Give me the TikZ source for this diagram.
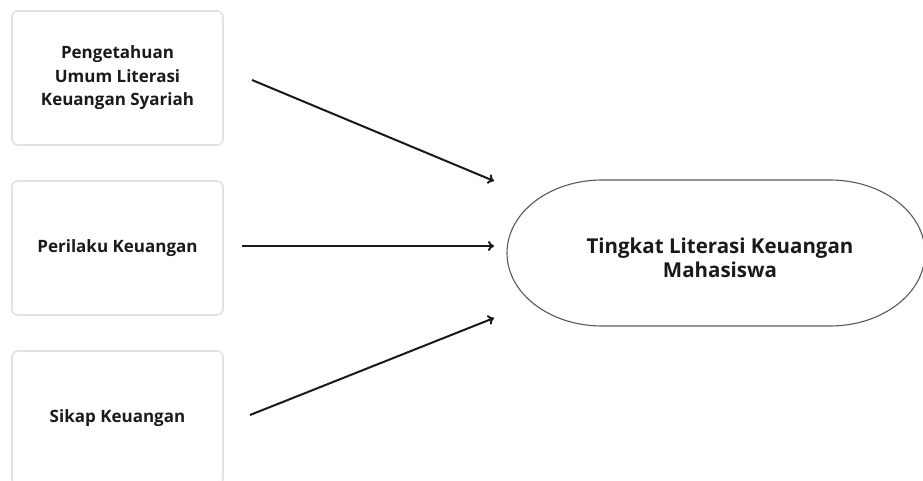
\documentclass[tikz,border=0pt]{standalone}
\usepackage{fontspec}
\setmainfont{Open Sans}
\usetikzlibrary{arrows.meta}
\definecolor{boxline}{HTML}{E2E2E2}
\definecolor{ovalline}{HTML}{5A5A5A}
\definecolor{ink}{HTML}{1A1A1A}
\tikzset{
  factor/.style={draw=boxline, line width=1.6pt, rounded corners=6pt, fill=white,
    minimum width=211pt, minimum height=134pt, align=center, inner sep=0pt,
    text=ink, font=\bfseries\fontsize{17}{23.5}\selectfont},
  link/.style={draw=ink, line width=2pt, -{To[length=6pt,width=10pt]}},
  outcome/.style={text=ink, align=center, font=\bfseries\fontsize{20.5}{24}\selectfont}
}
\begin{document}
\begin{tikzpicture}[x=1pt,y=-1pt]
  \useasboundingbox (0,0) rectangle (923,481);
  \clip (0,0) rectangle (923,481);
  \fill[white] (0,0) rectangle (923,481);

  % input factors
  \node[factor] (pengetahuan) at (117.5,78) {Pengetahuan\\Umum Literasi\\Keuangan Syariah};
  \node[factor] (perilaku) at (117.5,248) {Perilaku Keuangan};
  \node[factor] (sikap) at (117.5,418) {Sikap Keuangan};

  % outcome: elongated oval (y axis points down, so angles run clockwise)
  \draw[ovalline, line width=1.1pt]
    (602,180) -- (830,180)
    arc[start angle=-90, end angle=90, x radius=95, y radius=73]
    -- (602,326)
    arc[start angle=90, end angle=270, x radius=95, y radius=73] -- cycle;
  \node[outcome] (tingkat) at (720,258) {Tingkat Literasi Keuangan\\Mahasiswa};

  % arrow ends
  \coordinate (p1) at (252,80);
  \coordinate (q1) at (494,181);
  \coordinate (p2) at (242,246);
  \coordinate (q2) at (494,246);
  \coordinate (p3) at (250,415);
  \coordinate (q3) at (494,318);
  \draw[link] (p1) -- (q1);
  \draw[link] (p2) -- (q2);
  \draw[link] (p3) -- (q3);
\end{tikzpicture}
\end{document}
